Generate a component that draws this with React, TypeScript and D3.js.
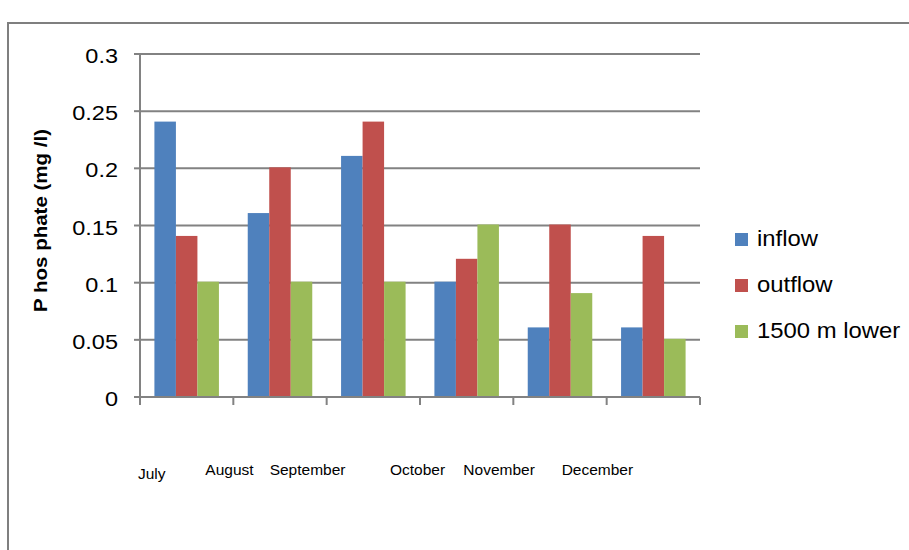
import React from 'react'
import * as d3 from 'd3'

// chart data
const months = ['July', 'August', 'September', 'October', 'November', 'December']
const seriesNames = ['inflow', 'outflow', '1500 m lower']
const inflow = [0.24, 0.16, 0.21, 0.10, 0.06, 0.06]
const outflow = [0.14, 0.20, 0.24, 0.12, 0.15, 0.14]
const lower1500 = [0.10, 0.10, 0.10, 0.15, 0.09, 0.05]
const yTicks = [0, 0.05, 0.1, 0.15, 0.2, 0.25, 0.3]
const yTickLabels = ['0', '0.05', '0.1', '0.15', '0.2', '0.25', '0.3']
const colors = ['#4F81BD', '#C0504D', '#9BBB59']

const seriesValues = [inflow, outflow, lower1500]

// layout
const WIDTH = 909
const HEIGHT = 550
const plot = { left: 140, right: 700, top: 54, bottom: 397 }
const grey = '#828282'
const font = 'Liberation Sans, Arial, sans-serif'
// the month labels sit oddly in the original, not under their groups
const monthLabelShift = [-2, -28, -57, -30, -50, -45]
const monthLabelDrop = [82, 78, 78, 78, 78, 78]

const App = () => {
    const x = d3.scaleBand<string>().domain(months).range([plot.left, plot.right]).padding(0)
    const inner = d3.scaleBand<string>()
        .domain(seriesNames)
        .range([0, x.bandwidth()])
        .paddingInner(0)
        .paddingOuter(0.67)
    const y = d3.scaleLinear().domain([0, 0.3]).range([plot.bottom, plot.top])

    const xTickPositions = months.map((m) => x(m)).concat([plot.right])

    return (
        <svg
            width={WIDTH}
            height={HEIGHT}
            style={{ position: 'absolute', left: 0, top: 0, display: 'block', background: '#fff' }}
        >
            {/* chart frame, running off right and bottom like the reference */}
            <rect x={8} y={23} width={1200} height={800} fill='#fff' stroke='#7f7f7f' strokeWidth={2} />

            {/* gridlines */}
            <g>
                {yTicks.slice(1).map((t) => (
                    <line key={t} x1={plot.left} x2={plot.right} y1={y(t)} y2={y(t)} stroke={grey} strokeWidth={2} />
                ))}
            </g>

            {/* bars */}
            <g>
                {seriesNames.map((name, si) => (
                    <g key={name}>
                        {months.map((m, mi) => (
                            <rect
                                key={m}
                                x={(x(m) as number) + (inner(name) as number)}
                                y={y(seriesValues[si][mi]) - 1}
                                width={inner.bandwidth()}
                                height={y(0) - y(seriesValues[si][mi]) + 1}
                                fill={colors[si]}
                            />
                        ))}
                    </g>
                ))}
            </g>

            {/* y axis */}
            <g>
                <line x1={plot.left} x2={plot.left} y1={plot.top} y2={plot.bottom} stroke={grey} strokeWidth={2} />
                {yTicks.map((t, i) => (
                    <g key={t}>
                        <line x1={plot.left - 6} x2={plot.left} y1={y(t)} y2={y(t)} stroke={grey} strokeWidth={2} />
                        <text
                            transform={`translate(${plot.left - 22}, ${y(t) + 9}) scale(1.12, 1)`}
                            textAnchor='end'
                            fontFamily={font}
                            fontSize={21}
                            fill='#000'
                        >
                            {yTickLabels[i]}
                        </text>
                    </g>
                ))}
                <text
                    transform={`translate(47, ${(plot.top + plot.bottom) / 2 - 5}) rotate(-90) scale(1.08, 1)`}
                    textAnchor='middle'
                    fontFamily={font}
                    fontWeight='bold'
                    fontSize={19}
                    fill='#000'
                >
                    P hos phate (mg /l)
                </text>
            </g>

            {/* x axis */}
            <g>
                <line x1={plot.left} x2={plot.right} y1={plot.bottom} y2={plot.bottom} stroke={grey} strokeWidth={2} />
                {xTickPositions.map((px, i) => (
                    <line key={i} x1={px} x2={px} y1={plot.bottom} y2={plot.bottom + 8} stroke={grey} strokeWidth={2} />
                ))}
                {months.map((m, i) => (
                    <text
                        key={m}
                        x={(x(m) as number) + monthLabelShift[i]}
                        y={plot.bottom + monthLabelDrop[i]}
                        fontFamily={font}
                        fontSize={15.5}
                        fill='#000'
                    >
                        {m}
                    </text>
                ))}
            </g>

            {/* legend */}
            <g transform='translate(735, 240)'>
                {seriesNames.map((name, i) => (
                    <g key={name} transform={`translate(0, ${i * 46})`}>
                        <rect x={0} y={-7} width={13} height={13} fill={colors[i]} />
                        <text
                            transform='translate(22, 6) scale(1.11, 1)'
                            fontFamily={font}
                            fontSize={21.5}
                            fill='#000'
                        >
                            {name}
                        </text>
                    </g>
                ))}
            </g>
        </svg>
    )
}

export default App
